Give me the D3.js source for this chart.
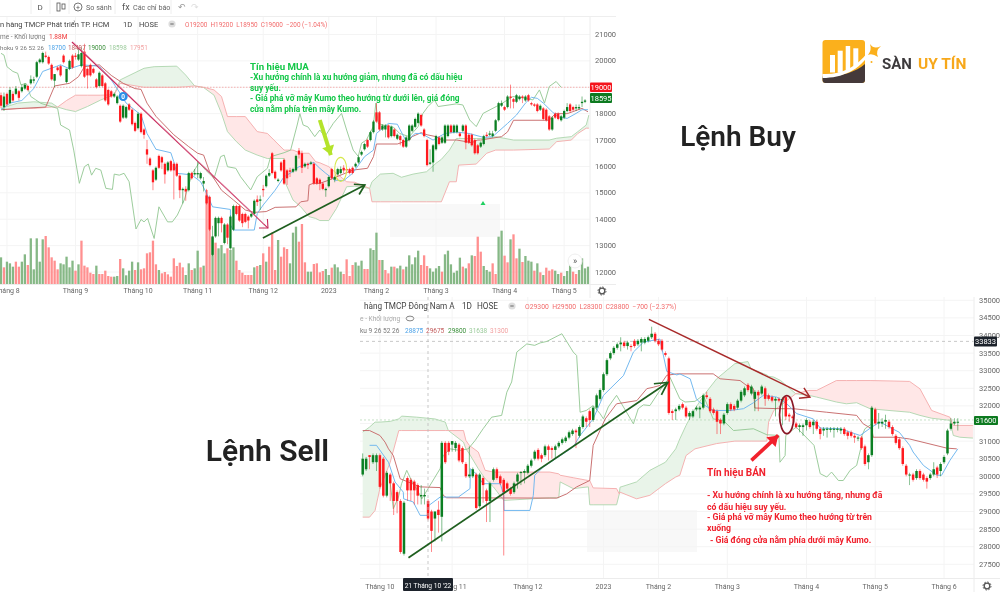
<!DOCTYPE html>
<html><head><meta charset="utf-8">
<script src="https://cdnjs.cloudflare.com/ajax/libs/d3/7.8.5/d3.min.js"></script>
<style>html,body{margin:0;padding:0;background:#fff;overflow:hidden}svg{display:block;filter:blur(.3px)}text{font-family:Roboto,sans-serif}</style>
</head><body><svg id="c" width="1000" height="600"></svg>
<script>
// ---------- BUY chart data: candles are [open, close, high, low]
const buyCandles=[[18700,18300,18800,18200],[18250,18650,18800,18100],[18750,18350,18800,18300],[18400,18900,19000,18350],[18750,18500,18850,18450],[18750,18950,19050,18700],[18850,18600,18900,18500],[18850,19000,19100,18800],[18950,19100,19150,18900],[19050,18900,19100,18850],
[19150,19300,19450,19100],[19250,19300,19400,19150],[19400,19950,20000,19350],[19950,20050,20100,19900],[19950,20300,20350,19900],[20200,20150,20350,20100],[20150,19900,20200,19850],[19850,19300,19900,19250],[19250,19500,19500,19000],[19750,19650,19800,19600],
[19800,19450,19850,19400],[20200,19950,20250,19900],[19200,19700,19700,19150],[19700,20000,20050,19650],[20200,19750,20250,19700],[20200,20150,20300,20050],[20050,20250,20450,20000],[19800,20300,20500,19750],[20350,19400,20650,19350],[19700,19450,19750,18950],
[19850,19450,19900,19400],[19700,19550,19750,19500],[19300,19000,19350,18950],[19050,19550,19600,19000],[19450,19050,19500,19000],[19150,18500,19200,18450],[18900,18350,18950,18300],[18850,18650,18900,18600],[18650,18750,18800,18600],[18400,18650,18700,18350],
[18300,17700,18350,17650],[17850,18300,18350,17800],[17850,18250,18300,17800],[18350,18150,18400,18100],[18150,17600,18200,17550],[17650,17350,17700,17300],[17450,18000,18050,17400],[18000,17300,18050,17250],[17400,17200,17450,17050],[16650,16450,17000,16100],
[16300,16050,16350,16000],[15850,15400,15900,15100],[15500,15950,16000,15450],[16400,15950,16450,15900],[16350,16150,16400,15900],[16100,15700,16150,15350],[15850,16150,16200,15800],[16200,15850,16250,15800],[16100,15850,16150,14750],[16100,15650,16150,15600],
[15650,15100,15700,14800],[15100,15150,15200,14600],[15150,15050,15250,14700],[15100,15750,15800,15050],[15750,15550,15800,15500],[15700,15750,15900,15650],[15700,15750,16200,15550],[15550,15750,15800,15500],[15350,15450,15600,15050],[14900,14600,15150,14550],
[14850,13600,14900,13550],[12650,13350,13750,12600],[13350,14050,14100,13300],[13850,14050,14100,13350],[14050,13850,14100,13500],[13100,13800,13850,13050],[13800,13300,13850,13050],[12900,14100,14150,12850],[13600,14500,14550,13550],[14500,14200,14550,14150],
[14500,13950,14550,13900],[14200,13850,14250,13700],[14200,13900,14250,13850],[14100,13950,14150,13650],[14100,14200,14250,14050],[14200,14700,14750,14150],[14750,14650,14900,14500],[14700,14750,14900,14350],[15150,15100,15300,14850],[15250,15650,15700,15200],
[15650,15750,15900,15600],[16500,15750,16550,15700],[15800,15550,15850,15500],[15450,15500,15550,15400],[16150,15850,16200,15800],[16250,15350,16300,15300],[15850,15550,15900,15300],[15850,15800,15950,15600],[15800,15900,15950,15750],[15850,16400,16450,15800],
[16600,16450,16700,16300],[16500,15950,16600,15750],[16000,16100,16150,15950],[16100,16050,16150,15900],[16100,16150,16200,16050],[16100,15350,16150,15300],[15550,15350,15600,15300],[15500,15350,15550,15100],[15350,15150,15400,15100],[15100,15150,15200,14850],
[15250,15600,15650,15200],[15900,15550,15950,15500],[15500,15600,15650,15400],[15700,15900,15950,15650],[15750,15900,16000,15700],[15950,15850,16050,15750],[15900,15850,15950,15800],[15900,15750,15950,15700],[15950,15750,16000,15700],[16000,16100,16150,15950],
[16150,16350,16400,16100],[16450,16550,16600,16400],[16650,16850,16900,16600],[17000,16750,17050,16700],[17000,17300,17350,16950],[17300,17700,17750,17250],[18050,17700,18400,17650],[18050,17400,18100,17350],[17400,17550,17600,17350],[17400,17550,17600,17100],
[17550,17100,17600,17050],[17150,17500,17550,17100],[17400,17150,17450,17100],[17050,17200,17250,17000],[17150,17000,17200,16800],[17000,16750,17050,16700],[16750,17100,17150,16700],[17000,17550,17600,16950],[17350,17550,17600,17300],[17500,17800,17850,17450],
[17650,18000,18050,17600],[17950,17550,18000,17500],[17400,17150,17450,17100],[17000,16050,17050,16000],[16100,16150,16650,16050],[16150,16800,16850,15800],[16650,17150,17200,16600],[17100,16850,17150,16800],[16900,17100,17150,16850],[16900,17550,17600,16850],
[17150,17550,17600,17100],[17550,17300,17600,17250],[17300,17550,17600,17250],[17300,17550,17600,17250],[17250,17150,17300,17100],[17350,17550,17600,17300],[17550,16900,17600,16650],[17200,16900,17250,16850],[17200,16800,17250,16750],[17000,16500,17050,16450],
[16800,16500,16850,16450],[16750,16900,16950,16700],[16850,17150,17200,16800],[17200,17150,17300,17100],[17200,17250,17350,17150],[17150,17250,17350,17100],[17350,17750,17800,17300],[17750,18400,18450,17700],[18300,18400,18500,18250],[18250,18150,18300,18100],
[18250,18650,18700,18200],[18650,18600,19100,18200],[18550,18450,18600,18200],[18450,18700,18750,18400],[18550,18650,18700,18500],[18650,18600,18700,18400],[18500,18650,18700,18450],[18700,18500,18750,18450],[18400,18350,18450,18300],[18350,18300,18400,18250],
[18350,18100,18400,18050],[18150,18300,18350,18100],[18200,17800,18250,17750],[18150,17750,18200,17700],[17900,17400,17950,17350],[17400,17850,17900,17350],[18000,17850,18050,17800],[18000,17800,18050,17750],[17750,17900,17950,17700],[17850,18100,18150,17800],
[18100,18250,18400,18050],[18350,18100,18400,18050],[18250,18150,18300,18100],[18200,18250,18350,18100],[18200,18250,18350,18150],[18400,18450,18650,18250],[18450,18500,18550,18400]];
// relative volume; positive = green, negative = red (last bar is 1.88M)
const buyVolume=[80,-50,67,62,52,-67,-52,67,89,-57,137,44,137,67,134,-144,-110,-80,-70,-44,62,59,82,50,70,-40,59,-130,-55,-50,-34,-30,55,-30,-30,-40,-24,-22,22,24,-75,47,26,40,67,-42,65,-44,-47,-92,-95,-130,-59,42,-32,-36,-29,-22,-77,-54,-64,-50,27,62,-42,47,100,-50,55,-282,-162,140,-124,107,117,92,-107,102,110,-70,-42,-34,-27,-27,-27,50,-54,57,-92,67,-112,-154,-42,132,-82,-110,-105,62,154,172,-127,-180,-65,37,37,-60,-62,-35,-39,45,27,-49,59,50,37,-30,-74,-24,-57,65,55,70,-45,-45,107,102,154,-72,72,-42,-32,52,-52,47,55,-44,52,86,59,80,100,-57,-86,-54,47,37,47,54,-37,89,100,59,34,40,79,-52,47,-62,86,-84,-142,-97,54,42,37,-62,-30,142,160,-85,-65,134,-149,-77,106,-66,84,70,67,-40,62,-35,27,-49,-40,-44,40,30,-34,24,39,57,-37,-30,42,77,47,52];
// line knots are [bar index, price]
const buyTenkan=[[0,18150],[3,18400],[7,18500],[11,18950],[14,19600],[20,19850],[23,19700],[27,19850],[33,19800],[37,19280],[40,18770],[42,18400],[47,17950],[49,17250],[52,16650],[57,16520],[58,16180],[59,15740],[64,15680],[67,15420],[69,14980],[71,14470],[77,14370],[77,13780],[78,13590],[85,13590],[86,14220],[88,14540],[92,15100],[95,15610],[97,15740],[100,15990],[105,16150],[107,15930],[109,15740],[112,15480],[115,15460],[118,15740],[122,16370],[125,16620],[126,17250],[130,17630],[133,17600],[136,16950],[139,17250],[141,17250],[145,17000],[149,17250],[153,17300],[157,17250],[162,17100],[165,17130],[170,17630],[173,17950],[176,18400],[178,18620],[180,18580],[182,18400],[185,18070],[187,17880],[190,17820],[193,18010],[195,18150],[197,18150]];
const buyKijun=[[0,18150],[7,18200],[15,18250],[18,19050],[23,19150],[26,19400],[28,19780],[33,19850],[37,19450],[41,19150],[45,18950],[47,18920],[49,18400],[52,17900],[58,17200],[63,16750],[66,16500],[68,16430],[70,15800],[74,15100],[78,14730],[82,14350],[85,14260],[89,14290],[92,14450],[99,14470],[100.6,14660],[103,14700],[103.4,15300],[104.8,15360],[107,15360],[110,15480],[118,15860],[123,15930],[125,16370],[126,16850],[133,16850],[137,17000],[138,17130],[141,17280],[143,17200],[146,17130],[148,17000],[153,17000],[158,16900],[160,17000],[161,17000],[168,17130],[170,17310],[172,17750],[184,17750],[186,18000],[190,18000],[195,18200],[197,18070]];
const buyChikou=[[0,20286],[1,20220],[2,19780],[4,19600],[5.6,19530],[6.7,19090],[8.4,19150],[10,18650],[11.7,18520],[13.4,18390],[19,18200],[20,17570],[23,17380],[24.4,16620],[26.3,15360],[28,15990],[29.3,16090],[30.4,15670],[31.8,15930],[33.5,15860],[35.2,15170],[37.4,15130],[38,15710],[39.7,15670],[41.3,15740],[43,15420],[45.3,13630],[47,13990],[48,13900],[49.2,14030],[51.4,13270],[53,14470],[55.9,13900],[57.5,13900],[59.2,14160],[61.5,14730],[64.2,15740],[66.5,16140],[68.7,15860],[71.5,15550],[73.7,16370],[74.9,16430],[76,15990],[78.8,15930],[80.4,15610],[83.8,15110],[86,15610],[89.4,15930],[90.5,16370],[95,16520],[97.2,16620],[99.4,17570],[100.3,18000],[101.4,17570],[103,17500],[105.3,17130],[107,17380],[108.7,17130],[111.5,17630],[114.3,18010],[116,17380],[118.2,16620],[119.9,16380],[121,16880],[122.6,17000],[124.9,17500],[125.8,18400],[126.6,17630],[128.2,17570],[131.6,17500],[133.8,17250],[137,17130],[140,17510],[141.6,18010],[143.3,18270],[145.5,18520],[146.7,18270],[152.8,18370],[155,18330],[157.3,17760],[159.5,17510],[161.8,18010],[166.2,18270],[167.3,18330],[171.8,18650],[176.3,18580],[178.5,18520],[180.7,18900],[182.4,18400],[184,19030],[186.3,19220],[188,19000]];
// cloud knots are [bar index, span A, span B]
const buyCloud=[[0,18200,18150],[5.6,18400,18200],[11,18450,18200],[17,18400,18250],[19,18250,18250],[22,18150,18500],[25,18080,18700],[29,18270,18700],[33.5,18520,18700],[38,18720,18720],[40,19280,19150],[48,19720,19000],[51.4,19780,19000],[59,19800,19000],[62,19460,19020],[65,19050,19050],[68,18990,19000],[71.5,18700,18900],[74,18010,18650],[76,17320,17890],[79,16940,17890],[82,16620,17890],[86,16430,17320],[89.4,16300,17250],[95,16300,16620],[95.5,15360,16620],[98,14730,16620],[100.6,14470,16500],[103.4,14096,16500],[105.6,14030,16180],[107,13950,16140],[110,13950,15990],[112.6,14410,15740],[116,15230,15420],[118.7,15250,15400],[123.7,15170,15170],[124.5,15420,14660],[127.3,15710,14660],[131.6,15740,14660],[134.4,15590,14660],[138.3,15710,14660],[142.8,15800,14660],[146,16120,14660],[147.8,16270,14660],[150.5,16620,15420],[152.8,17060,15420],[153.6,17060,16050],[159.5,17060,16090],[163,17060,16500],[166,17130,16620],[172,17000,16620],[184,17000,16660],[186.5,17070,16940],[191.4,17130,17000],[193.6,17320,17250],[196.4,17570,17450],[197.3,17950,17450]];
const buyTickIdx=[2,25,46,66,88,110,126,146,169,189];
const buyTickLabels=["Tháng 8","Tháng 9","Tháng 10","Tháng 11","Tháng 12","2023","Tháng 2","Tháng 3","Tháng 4","Tháng 5"];
const buyPriceTicks=[21000,20000,19000,18000,17000,16000,15000,14000,13000,12000];
const buyLastPrice=19000, buyClosePrice=18595;
const buyDownArrow=[[23.8,20716],[89.6,13666]], buyUpArrow=[[87.9,13288],[122.1,15296]], buySignalArrow=[[107,17760],[110.7,16430]], buySignalSpot=[114,15890], buyBadge=[41,18650];

// ---------- SELL chart data
const sellCandles=[[30050,30500,30650,30000],[30200,30500,30550,30150],[30600,30550,30600,30200],[30400,30600,30650,30350],[30400,30600,30650,30150],[30600,29700,30650,29650],[30500,29450,30550,29400],[29450,30100,30150,29400],[30050,29800,30100,29300],[29800,29300,29850,28900],
[29550,29300,29600,28950],[29300,27850,29350,27800],[27800,29250,29300,27750],[29950,29600,30000,29300],[29900,29600,29950,29300],[29850,29600,29900,29200],[29750,29450,29800,29200],[29430,29470,29750,29200],[29430,29470,29650,29200],[29300,28800,29350,28750],
[29000,28450,29050,27850],[28800,29000,29000,28150],[29050,28900,29300,28400],[28850,30950,31000,28150],[30950,30400,31000,30350],[30950,30700,31000,30600],[30900,31000,31000,30700],[30800,30950,31000,30700],[30900,30450,30950,30400],[30800,30400,30850,30350],
[30350,30000,30400,29950],[30000,30050,30850,29950],[30000,30200,30250,29950],[30050,29100,30100,29050],[29150,30050,30100,29100],[29950,29750,30000,29250],[29600,29300,29650,28700],[29300,29800,29850,28700],[29900,30200,30250,29850],[30200,29950,30250,29900],
[30000,29800,30050,29750],[29900,29550,29950,27750],[29800,29650,29850,29600],[29650,29500,29700,29450],[29550,29800,29850,29500],[29850,30050,30100,29650],[30100,30120,30150,29750],[30100,30150,30200,29800],[30100,30300,30350,30050],[30300,30450,30500,30250],
[30500,30700,30750,30450],[30750,30500,30800,30450],[30600,30500,30650,30400],[30600,30850,30900,30550],[30850,30750,30900,30450],[30800,30750,30850,30500],[30750,30850,30900,30500],[30850,30950,31000,30800],[30950,31050,31100,30900],[31000,31100,31150,30950],
[31100,31250,31300,31050],[31200,31300,31350,31150],[31300,31250,31350,30800],[31150,31400,31450,31100],[31400,31700,31750,31350],[31650,31550,31700,31400],[31850,31600,31900,31400],[31600,31950,32000,31550],[31950,32300,32350,31900],[32200,32450,32500,32150],
[32450,32900,32950,32400],[32900,33300,33350,32850],[33350,33500,33550,33300],[33500,33650,33700,33450],[33650,33750,33800,33600],[33750,33800,33950,33550],[33800,33700,33850,33650],[33700,33800,33850,33600],[33700,33680,33750,33550],[33850,33700,33900,33650],
[33750,33850,33900,33700],[33800,33900,33950,33550],[33800,33900,33950,33750],[33850,33950,34000,33800],[33950,34050,34250,33900],[34050,33850,34100,33800],[33850,33750,33900,33700],[33850,33600,33900,33550],[33500,33450,33550,33400],[33350,31800,33400,31750],
[31850,31800,31900,31600],[31850,31900,31950,31600],[31900,32000,32050,31850],[32050,31950,32100,31900],[31950,31700,32000,31650],[31700,31800,31850,31600],[31700,31850,31900,31650],[31900,31950,32000,31850],[31900,31950,32000,31650],[31950,32300,32350,31900],
[32300,32250,32400,32200],[32200,31850,32250,31800],[31900,31800,31950,31750],[31850,31550,31900,31200],[31600,31500,31650,31200],[31500,31750,31800,31450],[31800,32050,32100,31750],[32050,31900,32100,31850],[32000,31900,32050,31850],[31950,32150,32200,31900],
[32150,32400,32450,32100],[32300,32500,32550,32250],[32600,32450,32650,32400],[32350,32550,32600,32300],[32200,32400,32450,31850],[32400,32300,32450,31850],[32350,32550,32600,32300],[32500,32200,32550,32000],[32300,32200,32350,32150],[32250,32150,32300,32100],
[32150,32200,32250,31700],[32200,32150,32250,32100],[32150,32200,32250,31450],[32250,31700,32300,31600],[31750,31700,31800,31550],[31700,31650,31750,31500],[31500,31400,31550,31350],[31400,31450,31500,31250],[31400,31450,31500,31150],[31450,31600,31650,31300],
[31550,31400,31600,31350],[31450,31550,31600,31200],[31550,31350,31600,31300],[31350,31200,31400,31050],[31300,31350,31400,31150],[31320,31350,31400,31100],[31320,31350,31400,31250],[31320,31350,31400,31100],[31320,31350,31400,31250],[31300,31350,31400,31200],
[31350,31200,31400,31150],[31250,31150,31300,31050],[31250,31150,31300,31100],[31150,31100,31200,30950],[31080,31100,31150,31000],[31100,30800,31150,30750],[30850,30350,30900,30300],[30400,30600,30650,30200],[30600,31950,32000,30550],[31900,31500,31950,31450],
[31500,31550,31800,31350],[31500,31550,31650,31400],[31550,31600,31750,31350],[31550,31400,31600,31350],[31400,31200,31450,31150],[31150,30950,31200,30900],[31050,30800,31100,30750],[30800,30350,30850,30300],[30300,30050,30350,30000],[30030,30050,30100,29750],
[30050,29900,30100,29850],[29950,30150,30200,29900],[30150,29950,30200,29900],[30050,29900,30100,29850],[29950,29850,30000,29650],[29950,30050,30100,29900],[30050,30200,30400,30000],[30250,30050,30300,29950],[30150,30350,30400,30000],[30400,30550,30600,30350],
[30650,31300,31350,30600],[31350,31500,31650,31300],[31500,31550,31650,31450],[31530,31550,31650,31300]];
const sellTenkan=[[2,30880],[4,30880],[7.5,30400],[9.4,29840],[11.8,29550],[11.9,29360],[14.7,29270],[16.7,28890],[19,28890],[19.2,29170],[22.5,29410],[27.8,29410],[31.2,29650],[31.3,30215],[33,30070],[35,29790],[40,29790],[41,29460],[41.1,29030],[48.6,29030],[49.6,29460],[50,30030],[52.5,30260],[56.4,30520],[61.2,30830],[63.2,31160],[67,31630],[70,32300],[75.8,32860],[78.7,33530],[81.6,33810],[86.4,33900],[88.4,32980],[91.3,32880],[92.2,32910],[95.2,32770],[97,32200],[98,32100],[101.9,31870],[106.8,31870],[110.7,31920],[113.6,32090],[116.5,32300],[120.4,32250],[123.3,32060],[126.2,31780],[131,31630],[133,31370],[138.8,31350],[144.6,31160],[148,31400],[150.4,31540],[154,31350],[156,31250],[159,30880],[160,30690],[163,30310],[166.9,30030],[168.3,30030],[170.7,30450],[173,30780]];
const sellKijun=[[0,31300],[2,31300],[5,31160],[6.5,30970],[7.5,30780],[8.9,30590],[10.9,29930],[16.7,29700],[22.5,29680],[23.4,29460],[24.4,29390],[56.4,29380],[59.3,29500],[62.2,29700],[66,29880],[67,30880],[70.5,31630],[73.8,32060],[79.7,32150],[82.6,32490],[84.5,32530],[86.4,32580],[88.4,32870],[91.3,32910],[101.9,32910],[103.9,32770],[109.7,32720],[111.6,32580],[113.6,32490],[114,31940],[121.3,31920],[125.2,31920],[134.9,31820],[143.6,31730],[145.5,31490],[148,31350],[148.4,31110],[155.2,31110],[159,31060],[169.8,30800],[172.7,30780]];
const sellChikou=[[7.9,29880],[8.9,29080],[10.4,29410],[11.3,29790],[12.8,30170],[14.2,29880],[16.2,29550],[17.2,29360],[19,29650],[22.5,30215],[23.4,30590],[25.4,30780],[28.3,30735],[30.7,30780],[32.7,31020],[35,31350],[37.5,31680],[40.4,31730],[41.9,32390],[43.3,32680],[44.8,33530],[47.7,33760],[50,33720],[51.6,33790],[53.5,33830],[57.9,34050],[61.2,33530],[62.2,33430],[63.2,31820],[65,31870],[67,32010],[69,31780],[70,31630],[71.4,31970],[73.8,32300],[75.8,31970],[78.7,31490],[80.1,31920],[81.6,32030],[83.5,32010],[86.4,32440],[89.3,32820],[92.2,32200],[93.7,32110],[96.6,32130],[99,32300],[101.9,31630],[104.8,31590],[107.8,31300],[113.6,31350],[117.5,31180],[121,31160],[121.3,30400],[122.8,30590],[123,31160],[126,31400],[130,31000],[131.2,30880],[133,30075],[134.9,29980],[136.3,30120],[138.3,29880],[139.7,29880],[141.7,30170],[143.6,30310],[145,30880],[145.2,31160],[146,31350],[148,31490]];
const sellCloud=[[0,31255,28840],[2,31400,28840],[3.6,31540,29030],[5,31540,29650],[8,31560,30400],[10.5,31630,31300],[11.3,31710,31300],[15.7,31680,31300],[21,31630,31300],[24,31540,31300],[24.9,31300,31300],[29.3,30970,31300],[30,30780,31020],[31,30640,30878],[33.6,30215,30690],[35.6,29930,30170],[38,29700,30120],[41,29315,30120],[54.4,29390,30120],[57,29390,30070],[57.4,29840,30030],[61.2,29650,29960],[65.6,29700,29880],[66,29190,29880],[67,29190,29670],[73.8,29190,29650],[74.6,29500,29500],[74.8,29690,29550],[79.6,29840,29360],[83.5,30170,29460],[88,30400,29790],[91,30780,29980],[92.2,31065,30030],[94,31445,30590],[96.6,31920,30780],[99.5,32345,30850],[102.9,32770,30930],[108.2,33200,31000],[112,33260,31000],[112.9,33050,31000],[117.5,32880,31000],[118,32840,31540],[119.5,32820,31870],[121.5,32720,32010],[125.9,32345,32345],[129.7,32300,32440],[132,32250,32440],[137.7,32110,32720],[140.6,32060,32720],[143.6,32090,32720],[147.5,31920,32720],[153,31870,32710],[159,31820,32695],[162,31730,32485],[165.4,31650,31870],[170.7,31590,31680],[171.7,31160,31445],[173.6,31110,31445],[177.4,31085,31445]];
const sellTickIdx=[5,26,48,70,86,106,129,149,169];
const sellTickLabels=["Tháng 10","Tháng 11","Tháng 12","2023","Tháng 2","Tháng 3","Tháng 4","Tháng 5","Tháng 6"];
const sellPriceTicks=[35000,34500,34000,33500,33000,32500,32000,31500,31000,30500,30000,29500,29000,28500,28000,27500];
const sellCrossPrice=33833, sellClosePrice=31600;
const sellUpArrow=[[13.3,27688],[88.7,32667]], sellDownArrow=[[83.2,34460],[130,32250]], sellSignalArrow=[[113,30452],[120.8,31162]], sellSignalSpot=[123.3,31750];

const G="#0b7f22",R="#ff1a1f",VG="#86b886",VR="#ff9090",BLUE="#6db5ee",KIJ="#c76a6a",CHI="#97c997",SA="#aed6ae",SB="#f4aaaa";
const svg=d3.select("#c");
const T=(x,y,s,o={})=>svg.append("text").attr("x",x).attr("y",y).text(s)
  .attr("font-size",o.size||8).attr("fill",o.fill||"#555").attr("font-weight",o.w||400)
  .attr("text-anchor",o.a||"start").attr("font-family",o.f||"Roboto,sans-serif").attr("xml:space","preserve");
const defs=svg.append("defs");
function arrow(g,p,q,sc,o){
  const [a,b]=[[sc.x(p[0]),sc.y(p[1])],[sc.x(q[0]),sc.y(q[1])]];
  const ang=Math.atan2(b[1]-a[1],b[0]-a[0]),L=o.head||12,W=o.spread||.5;
  g.append("line").attr("x1",a[0]).attr("y1",a[1]).attr("x2",b[0]).attr("y2",b[1]).attr("stroke",o.c).attr("stroke-width",o.w);
  const h=[[b[0]-L*Math.cos(ang-W),b[1]-L*Math.sin(ang-W)],b,[b[0]-L*Math.cos(ang+W),b[1]-L*Math.sin(ang+W)]];
  if(o.fill) g.append("path").attr("d",d3.line()(h)+"Z").attr("fill",o.c);
  else g.append("path").attr("d",d3.line()(h)).attr("fill","none").attr("stroke",o.c).attr("stroke-width",o.hw||o.w);
}
function pane(id,cfg){
  const x=d3.scaleLinear().domain(cfg.xd).range(cfg.xr), y=d3.scaleLinear().domain(cfg.yd).range(cfg.yr);
  defs.append("clipPath").attr("id",id).append("rect").attr("x",cfg.left).attr("y",cfg.top).attr("width",cfg.right-cfg.left).attr("height",cfg.bottom-cfg.top);
  const g=svg.append("g");
  const c=g.append("g").attr("clip-path",`url(#${id})`);
  c.selectAll(".gy").data(cfg.priceTicks).join("line").attr("x1",cfg.left).attr("x2",cfg.right).attr("y1",y).attr("y2",y).attr("stroke","#f4f4f4");
  c.selectAll(".gx").data(cfg.tickIdx).join("line").attr("x1",x).attr("x2",x).attr("y1",cfg.top).attr("y2",cfg.bottom).attr("stroke","#f4f4f4");
  if(cfg.volume){
    const vh=d3.scaleLinear().domain([0,300]).range([0,100]);
    c.selectAll(".v").data(cfg.volume).join("rect").attr("x",(d,i)=>x(i)-1.15).attr("width",2.3)
      .attr("y",d=>cfg.bottom-vh(Math.abs(d))).attr("height",d=>vh(Math.abs(d))).attr("fill",d=>d>0?VG:VR);
  }
  // cloud: split the knots into same-signed runs
  const runs=[];let cur=null;
  cfg.cloud.forEach(k=>{const up=k[1]>k[2]?1:k[1]<k[2]?-1:0;
    if(!cur){cur={s:up,p:[k]};runs.push(cur);}
    else if(up===0){cur.p.push(k);cur={s:0,p:[k]};runs.push(cur);}
    else if(cur.s===0||cur.s===up){cur.s=up;cur.p.push(k);}
    else {cur={s:up,p:[k]};runs.push(cur);}});
  const area=d3.area().x(d=>x(d[0])).y0(d=>y(d[1])).y1(d=>y(d[2]));
  runs.forEach(r=>{if(r.p.length>1)c.append("path").attr("d",area(r.p)).attr("fill",r.s>=0?"#e9f4e9":"#ffe7e7");});
  const ln=d3.line().x(d=>x(d[0])).y(d=>y(d[1]));
  c.append("path").attr("d",ln(cfg.cloud.map(k=>[k[0],k[1]]))).attr("fill","none").attr("stroke",SA).attr("stroke-width",.9);
  c.append("path").attr("d",ln(cfg.cloud.map(k=>[k[0],k[2]]))).attr("fill","none").attr("stroke",SB).attr("stroke-width",.9);
  cfg.priceLines.forEach(p=>c.append("line").attr("x1",cfg.left).attr("x2",cfg.right).attr("y1",y(p.v)).attr("y2",y(p.v)).attr("stroke",p.c).attr("stroke-width",.8).attr("stroke-dasharray",p.d));
  [[cfg.chikou,CHI],[cfg.kijun,KIJ],[cfg.tenkan,BLUE]].forEach(([d,col])=>c.append("path").attr("d",ln(d)).attr("fill","none").attr("stroke",col).attr("stroke-width",.95));
  const cg=c.selectAll(".k").data(cfg.candles).join("g");
  cg.append("line").attr("x1",(d,i)=>x(i)).attr("x2",(d,i)=>x(i)).attr("y1",d=>y(d[2])).attr("y2",d=>y(d[3]))
    .attr("stroke",d=>d[1]>=d[0]?G:R).attr("stroke-width",.7).attr("opacity",.75);
  cg.append("rect").attr("x",(d,i)=>x(i)-cfg.bw/2).attr("width",cfg.bw)
    .attr("y",d=>y(Math.max(d[0],d[1]))).attr("height",d=>Math.max(1,Math.abs(y(d[0])-y(d[1])))).attr("fill",d=>d[1]>=d[0]?G:R);
  // axes; a label that sits under a price tag is hidden, as in the reference
  cfg.priceTicks.filter(v=>!cfg.coveredTicks.includes(v)).forEach(v=>T(cfg.right+cfg.axisPad,y(v)+2.5,v,{size:7.5,fill:"#666"}));
  cfg.tickIdx.forEach((ix,i)=>T(x(ix),cfg.bottom+cfg.labelDy,cfg.tickLabels[i],{size:cfg.tickFont,fill:"#666",a:"middle"}));
  g.append("line").attr("x1",cfg.right).attr("x2",cfg.right).attr("y1",cfg.top).attr("y2",cfg.bottom+14).attr("stroke","#ececec");
  g.append("line").attr("x1",cfg.left).attr("x2",cfg.axisEnd).attr("y1",cfg.bottom+.5).attr("y2",cfg.bottom+.5).attr("stroke","#ececec");
  return {x,y,c};
}
function gear(cx,cy){const g=svg.append("g");
  g.append("circle").attr("cx",cx).attr("cy",cy).attr("r",2.8).attr("fill","none").attr("stroke","#555").attr("stroke-width",1.3);
  g.append("circle").attr("cx",cx).attr("cy",cy).attr("r",4).attr("fill","none").attr("stroke","#555").attr("stroke-width",1).attr("stroke-dasharray","1.6 1.5");}
function tag(x,y,w,h,s,fill){svg.append("rect").attr("x",x).attr("y",y).attr("width",w).attr("height",h).attr("fill",fill).attr("rx",1);
  T(x+w/2,y+h/2+2.6,s,{size:7.5,fill:"#fff",a:"middle"});}

// ---- BUY pane
const b=pane("clipBuy",{xd:[0,197],xr:[1,588],yd:[12000,21000],yr:[272,34.5],left:0,right:590,top:17,bottom:284,axisEnd:616,axisPad:5,labelDy:9,tickFont:7,coveredTicks:[19000],
  candles:buyCandles,volume:buyVolume,tenkan:buyTenkan,kijun:buyKijun,chikou:buyChikou,cloud:buyCloud,priceTicks:buyPriceTicks,tickIdx:buyTickIdx,tickLabels:buyTickLabels,bw:2.3,
  priceLines:[{v:buyLastPrice,c:"#f4a0a0",d:"1.5 1.5"}]});
svg.insert("rect",":first-child").attr("x",390).attr("y",204).attr("width",110).attr("height",33).attr("fill","#f8f8f8");
// ---- SELL pane
const s=pane("clipSell",{xd:[0,173],xr:[362.7,957.8],yd:[27500,35000],yr:[564.3,300.3],left:360,right:974,top:297,bottom:578,axisEnd:1000,axisPad:5,labelDy:11,tickFont:7,coveredTicks:[31500],
  candles:sellCandles,tenkan:sellTenkan,kijun:sellKijun,chikou:sellChikou,cloud:sellCloud,priceTicks:sellPriceTicks,tickIdx:sellTickIdx,tickLabels:sellTickLabels,bw:2.5,
  priceLines:[{v:sellCrossPrice,c:"#bbb",d:"3 3"},{v:sellClosePrice,c:"#b7d8b7",d:"2 2"}]});
svg.insert("rect",":first-child").attr("x",587).attr("y",510).attr("width",110).attr("height",42).attr("fill","#f8f8f8");
s.c.append("line").attr("x1",428).attr("x2",428).attr("y1",297).attr("y2",578).attr("stroke","#bbb").attr("stroke-dasharray","3 3").attr("stroke-width",.8);

// ---- BUY annotations
const ba=svg.append("g");
arrow(ba,buyDownArrow[0],buyDownArrow[1],b,{c:"#c6285a",w:1.1,head:9,spread:.75});
ba.append("line").attr("x1",b.x(buyDownArrow[0][0])+1.6).attr("y1",b.y(buyDownArrow[0][1])+.3).attr("x2",b.x(buyDownArrow[1][0])-4).attr("y2",b.y(buyDownArrow[1][1])-4).attr("stroke","#e58aa6").attr("stroke-width",.7);
arrow(ba,buyUpArrow[0],buyUpArrow[1],b,{c:"#1f5f1f",w:1.7,head:11,spread:.55});
arrow(ba,buySignalArrow[0],buySignalArrow[1],b,{c:"#b4e32a",w:4,head:11,spread:.6,fill:true});
ba.append("ellipse").attr("cx",b.x(buySignalSpot[0])).attr("cy",b.y(buySignalSpot[1])).attr("rx",6).attr("ry",12).attr("fill","none").attr("stroke","#d6e84a").attr("stroke-width",1.1);
ba.append("circle").attr("cx",b.x(buyBadge[0])).attr("cy",b.y(buyBadge[1])).attr("r",4.5).attr("fill","#2b8fe8");
T(b.x(buyBadge[0]),b.y(buyBadge[1])+2.3,"0",{size:6.5,fill:"#fff",a:"middle",w:700});
svg.append("path").attr("d","M480.5 205L483 201L485.5 205Z").attr("fill","#1fd060");
svg.append("circle").attr("cx",575).attr("cy",261).attr("r",7).attr("fill","#fff").attr("stroke","#eee");
T(575,263.5,"»",{size:9,fill:"#555",a:"middle"});
tag(590,82.5,22,9.5,"19000","#f4141c");tag(590,93,22,10,"18595","#0d7a20");
gear(602,291);
// BUY text
const GT="#13c748",OS="'Open Sans',sans-serif";
T(250,70,"Tín hiệu MUA",{size:9.7,fill:GT,w:700,f:OS});
["-Xu hướng chính là xu hướng giảm, nhưng đã có dấu hiệu","suy yếu.","- Giá phá vỡ mây Kumo theo hướng từ dưới lên, giá đóng","cửa nằm phía trên mây Kumo."].forEach((t,i)=>T(250,[80,91,101,112][i],t,{size:8.3,fill:GT,w:700,f:OS}));
// BUY toolbar + legend
svg.append("line").attr("x1",0).attr("x2",616).attr("y1",16.5).attr("y2",16.5).attr("stroke","#eee");
[31,50,69,115,171].forEach(v=>svg.append("line").attr("x1",v).attr("x2",v).attr("y1",0).attr("y2",14).attr("stroke","#eee"));
T(40,10,"D",{size:8,fill:"#555",a:"middle"});
svg.append("rect").attr("x",57).attr("y",3).attr("width",3).attr("height",8).attr("fill","none").attr("stroke","#555").attr("stroke-width",.8);
svg.append("rect").attr("x",62).attr("y",4).attr("width",3).attr("height",5).attr("fill","none").attr("stroke","#555").attr("stroke-width",.8);
svg.append("circle").attr("cx",78).attr("cy",7).attr("r",4).attr("fill","none").attr("stroke","#555").attr("stroke-width",.8);
T(78,9.5,"+",{size:7,fill:"#555",a:"middle"});
T(86,10,"So sánh",{size:7.2,fill:"#666"});
T(122,10,"fx",{size:9,fill:"#555",f:"'DejaVu Serif',serif"});
T(133,10,"Các chỉ báo",{size:7.2,fill:"#666"});
T(182,10,"↶",{size:9,fill:"#999",a:"middle"});T(195,10,"↷",{size:9,fill:"#ddd",a:"middle"});
T(0,27,"n hàng TMCP Phát triển TP. HCM",{size:7.5,fill:"#444"});
T(123,27,"1D",{size:7.5,fill:"#444"});T(139,27,"HOSE",{size:7.5,fill:"#444"});
svg.append("circle").attr("cx",172).attr("cy",24).attr("r",3.6).attr("fill","#ddd");
svg.append("line").attr("x1",170.3).attr("x2",173.7).attr("y1",24).attr("y2",24).attr("stroke","#666");
T(185,27,"O19200  H19200  L18950  C19000  −200 (−1.04%)",{size:6.4,fill:"#f26b6b"});
T(0,39,"me - Khối lượng",{size:6.5,fill:"#777"});T(49,39,"1.88M",{size:6.5,fill:"#f03535"});
T(0,50,"hoku 9 26 52 26",{size:6.2,fill:"#777"});
[["18700",48,"#4da3e8"],["18497",68,"#c46060"],["19000",88,"#3a8f3a"],["18598",109,"#9ccb9c"],["17951",130,"#f2a2a2"]].forEach(d=>T(d[1],50,d[0],{size:6.3,fill:d[2]}));

// ---- SELL annotations
const sa=svg.append("g");
arrow(sa,sellUpArrow[0],sellUpArrow[1],s,{c:"#1f5f1f",w:1.7,head:14,spread:.5});
arrow(sa,sellDownArrow[0],sellDownArrow[1],s,{c:"#a82a2a",w:1.5,head:11,spread:.55});
sa.append("ellipse").attr("cx",s.x(sellSignalSpot[0])).attr("cy",s.y(sellSignalSpot[1])).attr("rx",7.3).attr("ry",19).attr("fill","none").attr("stroke","#8a1826").attr("stroke-width",1.7);
arrow(sa,sellSignalArrow[0],sellSignalArrow[1],s,{c:"#f1212c",w:3.6,head:12,spread:.6,fill:true});
svg.append("rect").attr("x",403).attr("y",578).attr("width",50).attr("height",13).attr("fill","#1c222b").attr("rx",1);
T(428,587.5,"21 Tháng 10 '22",{size:6.6,fill:"#fff",a:"middle"});
tag(974,336.5,23,10,"33833","#1c222b");tag(974,416,24,9,"31600","#0d7a20");
gear(987,586);
const RT="#f0202c";
T(707,476,"Tín hiệu BÁN",{size:10,fill:RT,w:700,f:OS});
[[707,498,"- Xu hướng chính là xu hướng tăng, nhưng đã"],[707,510,"có dấu hiệu suy yếu."],[707,520,"- Giá phá vỡ mây Kumo theo hướng từ trên"],[707,531,"xuống"],[710,542.5,"- Giá đóng cửa nằm phía dưới mây Kumo."]].forEach(d=>T(d[0],d[1],d[2],{size:8.7,fill:RT,w:700,f:OS}));
T(364,309,"hàng TMCP Đông Nam A",{size:8.2,fill:"#444"});
T(462,309,"1D",{size:8.2,fill:"#444"});T(477,309,"HOSE",{size:8.2,fill:"#444"});
svg.append("circle").attr("cx",512).attr("cy",306).attr("r",3.6).attr("fill","#ddd");
svg.append("line").attr("x1",510.3).attr("x2",513.7).attr("y1",306).attr("y2",306).attr("stroke","#666");
T(525,309,"O29300  H29500  L28300  C28800  −700 (−2.37%)",{size:6.8,fill:"#f26b6b"});
T(360,321,"e - Khối lượng",{size:6.6,fill:"#aaa"});
svg.append("ellipse").attr("cx",410).attr("cy",318.5).attr("rx",3.8).attr("ry",2.4).attr("fill","none").attr("stroke","#777").attr("stroke-width",.9);
T(360,333,"ku 9 26 52 26",{size:6.6,fill:"#777"});
[["28875",405,"#4da3e8"],["29675",426,"#c46060"],["29800",448,"#3a8f3a"],["31638",469,"#9ccb9c"],["31300",490,"#f2a2a2"]].forEach(d=>T(d[1],333,d[0],{size:6.5,fill:d[2]}));

// ---- Big titles
T(738,146,"Lệnh Buy",{size:28,fill:"#222",w:600,a:"middle",f:OS});
T(267.5,461,"Lệnh Sell",{size:30,fill:"#222",w:600,a:"middle",f:OS});
// ---- Logo
const lg=svg.append("g");
lg.append("rect").attr("x",822.5).attr("y",40).attr("width",42.5).attr("height",43).attr("rx",3).attr("fill","#fbb01c");
lg.append("path").attr("d","M822.5 76.5C840 77 856 72 865 64L865 80Q865 83 862 83L825.5 83Q822.5 83 822.5 80Z").attr("fill","#45393a");
lg.append("path").attr("d","M822.5 74C840 75 856 68 868 52L870 53C860 70 842 78 822.5 78Z").attr("fill","#fff");
[[830,55,5,17.5],[837.7,50.7,5,22],[845.7,46,4.5,24],[853.3,48.3,5,18]].forEach(r=>lg.append("rect").attr("x",r[0]).attr("y",r[1]).attr("width",r[2]).attr("height",r[3]).attr("fill","#fff"));
lg.append("path").attr("d","M870 44Q874 50 881 46Q875 51 878 57Q872 53 868 55Q872 50 870 44Z").attr("fill","#fbb01c");
lg.append("circle").attr("cx",871.5).attr("cy",62).attr("r",1).attr("fill","#fbb01c");
T(882,69,"SÀN",{size:15,fill:"#3d3a3c",w:700,f:OS});
T(918,69,"UY TÍN",{size:15.5,fill:"#f7a81b",w:700,f:OS});
</script></body></html>
